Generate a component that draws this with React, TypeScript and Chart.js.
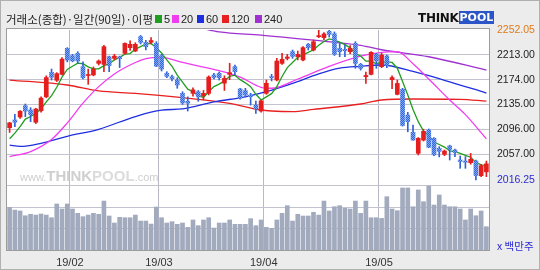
import React, { useEffect, useRef } from 'react';
import { Chart, registerables } from 'chart.js';

Chart.register(...registerables);

// ---------- data (KOSPI daily) ----------
const DATES = [
  '2019-01-16','2019-01-17','2019-01-18','2019-01-21','2019-01-22','2019-01-23','2019-01-24','2019-01-25','2019-01-28','2019-01-29','2019-01-30','2019-01-31',
  '2019-02-01','2019-02-07','2019-02-08','2019-02-11','2019-02-12','2019-02-13','2019-02-14','2019-02-15','2019-02-18','2019-02-19','2019-02-20','2019-02-21','2019-02-22','2019-02-25','2019-02-26','2019-02-27','2019-02-28',
  '2019-03-04','2019-03-05','2019-03-06','2019-03-07','2019-03-08','2019-03-11','2019-03-12','2019-03-13','2019-03-14','2019-03-15','2019-03-18','2019-03-19','2019-03-20','2019-03-21','2019-03-22','2019-03-25','2019-03-26','2019-03-27','2019-03-28','2019-03-29',
  '2019-04-01','2019-04-02','2019-04-03','2019-04-04','2019-04-05','2019-04-08','2019-04-09','2019-04-10','2019-04-11','2019-04-12','2019-04-15','2019-04-16','2019-04-17','2019-04-18','2019-04-19','2019-04-22','2019-04-23','2019-04-24','2019-04-25','2019-04-26','2019-04-29','2019-04-30',
  '2019-05-02','2019-05-03','2019-05-07','2019-05-08','2019-05-09','2019-05-10','2019-05-13','2019-05-14','2019-05-15','2019-05-16','2019-05-17','2019-05-20','2019-05-21','2019-05-22','2019-05-23','2019-05-24','2019-05-27','2019-05-28','2019-05-29','2019-05-30','2019-05-31',
];

const OPEN = [
  2098.5,2110.6,2115.3,2133,2126.3,2107,2125,2147,2185.5,2173,2182.3,2223.2,
  2211.7,2215.4,2194.4,2180.5,2181.3,2199.6,2198,2210,2207.5,2210,2215.4,2224.3,2219,2241.6,2232.7,2232.7,2231,
  2211.7,2184,2178.7,2173.4,2152.5,2140,2152.5,2155,2148.8,2152.5,2181.3,2184,2168.5,2182.3,2194.4,2159.3,2156.7,2149.9,2134.1,2124.7,
  2152.5,2178.7,2173.4,2199.6,2207.5,2218,2210,2204.9,2229.5,2220.6,2241.6,2240,2250,2246,2223.2,2221.6,2218,2231,2198,2178.7,2182.3,2213.8,
  2194.4,2211.2,2174,2150.9,2158.8,2118.4,2091.2,2058.2,2079,2094.8,2081.7,2066,2056.6,2069.7,2063.4,2047.7,2046,2043.5,2046.1,2023.1,2029,
];
const HIGH = [
  2107,2119.5,2125.5,2135.7,2130,2129,2147,2180,2190.7,2185,2208.5,2224.3,
  2213.8,2218,2202,2190.7,2194,2205,2228,2211,2214,2211,2232,2235,2232,2243.5,2236,2240,2233.7,
  2213.8,2186.5,2181.3,2177,2155,2147,2161,2157,2157,2180,2184,2186,2180,2199.6,2197,2160.4,2160.4,2152.5,2140.4,2142,
  2173.4,2182.3,2207.5,2215.4,2213.8,2220.6,2219,2226,2231,2236.3,2252.05,2248,2251.5,2249,2231,2228.5,2227.5,2233.7,2199.6,2186,2218,2215.4,
  2215.4,2212.8,2180,2173.4,2160.4,2122.6,2102.7,2083,2096,2096.4,2082.8,2068.6,2063.4,2071,2065,2054,2053,2058,2047.7,2041,2046,
];
const LOW = [
  2091,2100,2113,2115.8,2108,2105,2123,2145.5,2173.4,2171,2181.3,2202,
  2202,2199.6,2175,2166.6,2180,2197,2186.5,2186.5,2205,2193,2214,2220,2218,2230,2220.6,2230,2194.4,
  2187.6,2177.1,2172,2160.4,2135,2124.7,2148,2140,2142,2150,2175,2173.4,2157,2174,2181.3,2143.3,2147.2,2134,2121,2122.8,
  2151,2172,2172,2198,2205,2207.5,2205,2203.3,2220.6,2219,2240,2237,2241,2212,2210,2210,2215,2191.8,2189,2168,2181.3,2191.8,
  2192.8,2192.8,2160,2150,2101,2092,2079,2055.6,2077.5,2067,2054.5,2052.5,2054.5,2047.7,2053,2034.6,2034.6,2041,2016.25,2021.5,2021.5,
];
const CLOSE = [
  2106.1,2107.1,2124.3,2124.6,2119,2127.8,2145,2177.3,2177.7,2183.4,2206.2,2204.9,
  2203.5,2203.4,2177.1,2180.7,2190.9,2203.3,2225.8,2196.1,2210.9,2207,2231,2229.5,2229.5,2232.7,2225.8,2235.5,2195.4,
  2190.7,2179.2,2175.6,2165.6,2137.4,2137.1,2158,2147,2152.5,2178,2177.5,2177.1,2176,2185,2186.5,2144.9,2149.9,2147.2,2128.1,2140.7,
  2168.3,2177.2,2203.3,2206,2209.6,2210.6,2213.8,2224.3,2224.3,2233.5,2242.9,2245.9,2245,2214,2218,2219.5,2223.2,2199.6,2191.8,2180.5,2216.9,2203.6,
  2212.8,2196.3,2177.3,2168,2102,2108,2079,2081.8,2092.8,2067.7,2055.8,2061.3,2061.8,2064.4,2059.6,2045.3,2044.2,2048.7,2023.3,2038.8,2041.7,
];
// volume, million shares
const VOLUME = [
  568,548,541,505,516,510,518,510,490,594,556,594,
  556,523,498,510,523,516,616,503,450,493,490,490,510,465,465,442,571,
  490,450,460,440,450,417,473,430,473,490,412,450,450,473,440,440,440,483,430,473,
  417,410,473,523,581,465,516,503,503,531,510,616,541,573,581,561,556,616,523,616,490,490,
  485,649,556,543,715,715,573,700,611,730,586,662,586,573,573,556,473,556,505,541,422,
];
// moving averages
const MA5 = [
  2081,2090,2100,2112,2116,2121,2128,2139,2149,2162,2178,2190,
  2195,2200,2199,2194,2191,2191,2196,2199,2205,2209,2214,2215,2222,2226,2230,2231,2224,
  2216,2205,2195,2181,2170,2159,2155,2149,2146,2155,2163,2167,2172,2179,2181,2174,2169,2163,2151,2142,
  2147,2152,2163,2179,2193,2201,2209,2213,2217,2221,2228,2234,2238,2236,2233,2229,2224,2215,2211,2203,2203,2199,
  2201,2202,2201,2192,2171,2150,2127,2108,2093,2086,2076,2072,2068,2062,2061,2058,2055,2052,2044,2040,2039,
];
const MA20_PTS = [[0,2053],[4,2061],[8,2080],[11,2106],[14,2137],[17,2163],[20,2183],[24,2201],[26,2207],[29,2209],[33,2201],[39,2190],[44,2178],[48,2162],[50,2160.5],[55,2175],[61,2195],[67,2211],[71,2217],[74,2218],[77,2199],[80,2175],[84,2142],[87,2119],[91,2081]];
const MA60_PTS = [[0,2071],[2,2069],[6,2074],[11,2085],[17,2096],[24,2116],[29,2126],[33,2128],[39,2139],[45,2147],[49,2155],[54,2168],[59,2183],[63,2192],[67,2195],[71,2197],[77,2187],[83,2173],[91,2153]];
const MA120_PTS = [[0,2173.4],[11,2165.6],[17,2156.2],[24,2152.5],[33,2145.7],[42,2136.8],[48,2126.3],[50,2124.7],[54,2123.6],[58,2127.3],[67,2135.7],[71,2142],[77,2143.6],[86,2143],[91,2140.4]];
const MA240_PTS = [[36,2256],[40,2249],[48,2244],[58,2236],[67,2228],[71,2221],[80,2210],[91,2189]];

const MA_PERIODS = [5, 20, 60, 120, 240];
const MA_COLORS = ['#1f9e1f', '#f03cf0', '#1f2fe0', '#e82020', '#a030d0'];

const PRICE_TICKS = [2016.25, 2057, 2096, 2135, 2174, 2213, 2252.05];
const PRICE_MIN = 1906.21;
const PRICE_MAX = 2252.05;
const VOL_TICKS = [410, 571];
const VOL_PANEL_TOP = 733;
const VOL_MIN = 246;
const VOL_MAX = 1909;

const FONT = "'Liberation Sans', Arial, sans-serif";
const KFONT = "'Noto Sans CJK KR', 'Noto Sans', sans-serif";

const sparse = (pts: number[][]) => {
  const arr: (number | null)[] = DATES.map(() => null);
  pts.forEach(([i, v]) => { arr[i] = v; });
  return arr;
};

const monthLabel = (i: any) => {
  if (typeof i !== 'number' || i <= 0 || i >= DATES.length) return '';
  const m = DATES[i].slice(5, 7);
  return m !== DATES[i - 1].slice(5, 7) ? `${DATES[i].slice(2, 4)}/${m}` : '';
};

const framePlugin = {
  id: 'frame',
  beforeDraw(chart: any) {
    const { ctx, chartArea: a } = chart;
    ctx.save();
    ctx.fillStyle = '#ffffff';
    ctx.fillRect(a.left, a.top - 2, a.right - a.left, a.bottom - a.top + 2);
    ctx.restore();
  },
  afterDraw(chart: any) {
    const { ctx, chartArea: a } = chart;
    ctx.save();
    ctx.strokeStyle = '#9c9c9c';
    ctx.lineWidth = 1;
    ctx.strokeRect(Math.round(a.left) - 0.5, Math.round(a.top) - 1.5, Math.round(a.right - a.left) + 1, Math.round(a.bottom - a.top) + 2);
    ctx.restore();
  },
};

export default function App() {
  const ref = useRef<HTMLCanvasElement>(null);

  useEffect(() => {
    const canvas = ref.current as HTMLCanvasElement;
    const mkPattern = (base: string, dot: string) => {
      const c = document.createElement('canvas');
      c.width = 2; c.height = 2;
      const g = c.getContext('2d') as CanvasRenderingContext2D;
      g.fillStyle = base; g.fillRect(0, 0, 2, 2);
      g.fillStyle = dot; g.fillRect(0, 0, 1, 1); g.fillRect(1, 1, 1, 1);
      return (canvas.getContext('2d') as CanvasRenderingContext2D).createPattern(c, 'repeat');
    };
    const RED = '#e41e1e';
    const BLUE = '#2f62d8';
    const bluePat = mkPattern('#3466d8', '#7fa6f2');
    const up = CLOSE.map((c, i) => c >= OPEN[i]);

    const lineDs = (data: any[], color: string, order: number, smooth: boolean) => ({
      type: 'line',
      data,
      yAxisID: 'y',
      borderColor: color,
      borderWidth: 1.3,
      pointRadius: 0,
      spanGaps: true,
      tension: smooth ? 0.4 : 0,
      cubicInterpolationMode: smooth ? 'monotone' : 'default',
      order,
    });

    const chart = new Chart(canvas, {
      type: 'bar',
      data: {
        labels: DATES,
        datasets: [
          {
            type: 'bar', data: OPEN.map((o, i) => [o, CLOSE[i]]), yAxisID: 'y',
            backgroundColor: up.map((u) => (u ? RED : bluePat)), barThickness: 4,
            grouped: false, minBarLength: 1, order: 0,
          },
          {
            type: 'bar', data: LOW.map((l, i) => [l, HIGH[i]]), yAxisID: 'y',
            backgroundColor: up.map((u) => (u ? RED : BLUE)), barThickness: 1,
            grouped: false, order: 1,
          },
          lineDs(MA5, MA_COLORS[0], 2, false),
          lineDs(sparse(MA20_PTS), MA_COLORS[1], 3, true),
          lineDs(sparse(MA60_PTS), MA_COLORS[2], 4, true),
          lineDs(sparse(MA120_PTS), MA_COLORS[3], 5, true),
          lineDs(sparse(MA240_PTS), MA_COLORS[4], 6, true),
          {
            type: 'bar', data: VOLUME, yAxisID: 'yv', backgroundColor: '#a2aabe',
            barThickness: 4, grouped: false, order: 10,
          },
        ] as any,
      },
      options: {
        responsive: false,
        animation: false,
        events: [],
        layout: { padding: { left: 7, top: 30, right: 0, bottom: 0 } },
        plugins: { legend: { display: false }, tooltip: { enabled: false }, title: { display: false } },
        scales: {
          x: {
            type: 'category',
            offset: true,
            grid: {
              offset: true,
              drawTicks: false,
              color: (ctx: any) => (monthLabel(ctx.index) ? '#b9b9c6' : 'rgba(0,0,0,0)'),
            },
            border: { display: false },
            ticks: {
              autoSkip: false, maxRotation: 0, minRotation: 0, padding: 6, labelOffset: -2.6,
              color: '#333', font: { family: FONT, size: 11 },
              callback: (_v: any, i: number) => monthLabel(i),
            },
            afterFit: (s: any) => { s.height = 20; },
          },
          y: {
            type: 'linear', position: 'right', weight: 1, bounds: 'data',
            min: PRICE_MIN, max: PRICE_MAX,
            afterBuildTicks: (s: any) => { s.ticks = PRICE_TICKS.map((v) => ({ value: v })); },
            grid: {
              drawTicks: false,
              color: (ctx: any) => (ctx.tick && (ctx.tick.value === PRICE_MAX || ctx.tick.value === PRICE_TICKS[0]) ? 'rgba(0,0,0,0)' : '#c3c3cf'),
            },
            border: { display: false },
            ticks: {
              padding: 8,
              font: { family: FONT, size: 10.5 },
              color: (ctx: any) => (ctx.tick && ctx.tick.value === PRICE_MAX ? '#e07a1a' : ctx.tick && ctx.tick.value === PRICE_TICKS[0] ? '#2c2cd0' : '#222'),
              callback: (v: any) => Number(v).toFixed(2),
            },
            afterFit: (s: any) => { s.width = 51; },
          },
          yv: {
            type: 'linear', position: 'right', weight: 0, bounds: 'data',
            min: VOL_MIN, max: VOL_MAX,
            afterBuildTicks: (s: any) => { s.ticks = [...VOL_TICKS, VOL_PANEL_TOP].map((v) => ({ value: v })); },
            grid: { drawTicks: false, color: '#c3c3cf' },
            border: { display: false },
            ticks: {
              padding: 8,
              font: { family: FONT, size: 10.5 },
              color: '#222',
              callback: (v: any) => (VOL_TICKS.includes(Number(v)) ? String(v) : ''),
            },
            afterFit: (s: any) => { s.width = 0; },
          },
        },
      } as any,
      plugins: [framePlugin],
    });
    return () => chart.destroy();
  }, []);

  const LEG_X = [155, 172, 197, 222, 255];

  return (
    <div style={{ position: 'fixed', left: 0, top: 0, width: 540, height: 270, background: '#ececec', overflow: 'hidden' }}>
      <canvas ref={ref} width={540} height={270} style={{ position: 'absolute', left: 0, top: 0, width: 540, height: 270 }} />
      <div style={{ position: 'absolute', left: 6, top: 11, font: `11.5px ${KFONT}`, lineHeight: '16px', color: '#222', whiteSpace: 'nowrap' }}>
        거래소(종합)·일간(90일)·이평
      </div>
      {MA_PERIODS.map((p, i) => (
        <React.Fragment key={p}>
          <div style={{ position: 'absolute', left: LEG_X[i], top: 15, width: 7, height: 8, background: MA_COLORS[i] }} />
          <div style={{ position: 'absolute', left: LEG_X[i] + 9, top: 11, font: `11px ${FONT}`, lineHeight: '16px', color: '#222' }}>{p}</div>
        </React.Fragment>
      ))}
      <div style={{ position: 'absolute', left: 418, top: 11, height: 13, display: 'flex', alignItems: 'center', whiteSpace: 'nowrap' }}>
        <span style={{ font: `bold 12px 'DejaVu Sans', sans-serif`, color: '#111', letterSpacing: -0.3 }}>THINK</span>
        <span style={{ font: `bold 11px 'DejaVu Sans', sans-serif`, color: '#fff', background: '#2c55c8', padding: '0 1px', lineHeight: '13px' }}>POOL</span>
      </div>
      <div style={{ position: 'absolute', left: 20, top: 167, whiteSpace: 'nowrap', color: '#cfcfcf', display: 'flex', alignItems: 'baseline' }}>
        <span style={{ font: `11px ${FONT}` }}>www.</span>
        <span style={{ font: `bold 15px ${FONT}` }}>THINK</span>
        <span style={{ font: `bold 15px ${FONT}`, color: '#dcdcdc' }}>POOL</span>
        <span style={{ font: `11px ${FONT}` }}>.com</span>
      </div>
      <div style={{ position: 'absolute', left: 497, top: 239, font: `10.5px ${KFONT}`, lineHeight: '14px', color: '#2a2ad8', whiteSpace: 'nowrap' }}>
        x 백만주
      </div>
      <div style={{ position: 'absolute', left: 0, top: 0, width: 540, height: 270, boxSizing: 'border-box', border: '1px solid #b0b0b0', pointerEvents: 'none' }} />
    </div>
  );
}
